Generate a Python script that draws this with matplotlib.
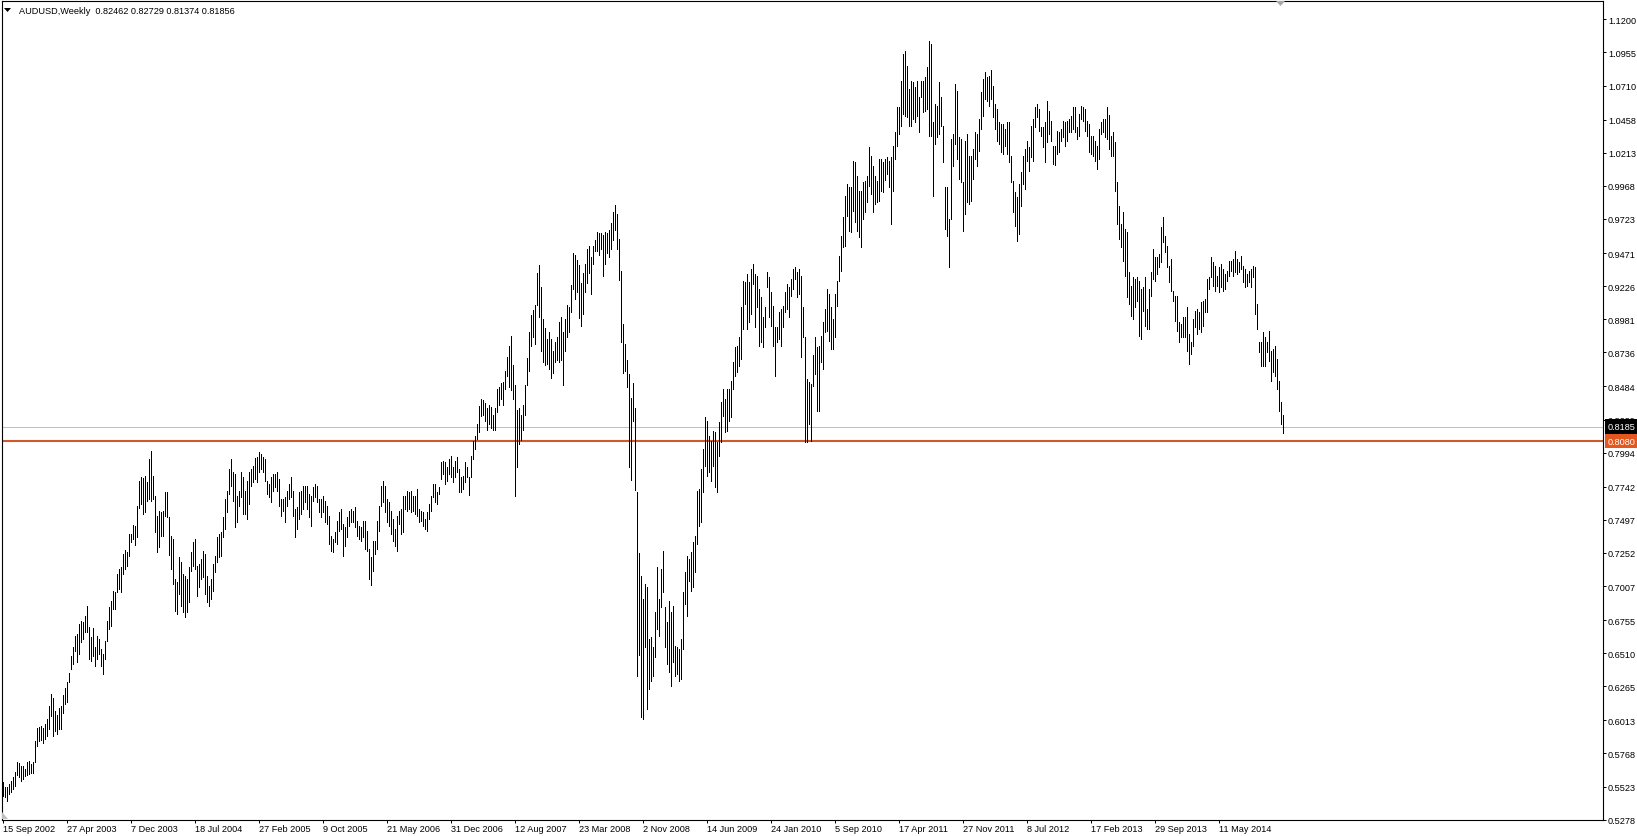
import numpy as np
import matplotlib
matplotlib.use('Agg')
import matplotlib.pyplot as plt
from matplotlib import transforms
from matplotlib.patches import Polygon

# AUDUSD weekly bars, first bar = week of 15 Sep 2002, highs / lows
high_02_04 = [0.5554, 0.5517, 0.5517, 0.5542, 0.5566, 0.5591, 0.5628, 0.5707, 0.5697, 0.5678,
              0.5673, 0.5653, 0.5702, 0.5715, 0.5690, 0.5707, 0.5862, 0.5954, 0.5961, 0.5974,
              0.5954, 0.5986, 0.6023, 0.6117, 0.6208, 0.6176, 0.6085, 0.6052, 0.6102, 0.6122,
              0.6200, 0.6250, 0.6299, 0.6363, 0.6486, 0.6553, 0.6639, 0.6652, 0.6726, 0.6750,
              0.6738, 0.6788, 0.6857, 0.6701, 0.6627, 0.6694, 0.6553, 0.6635, 0.6615, 0.6541,
              0.6504, 0.6603, 0.6750, 0.6849, 0.6899, 0.6972, 0.6960, 0.7096, 0.7133, 0.7145,
              0.7244, 0.7276, 0.7256, 0.7392, 0.7392, 0.7459, 0.7449, 0.7597, 0.7787, 0.7811,
              0.7804, 0.7819, 0.7774, 0.7947, 0.8008, 0.7824, 0.7675, 0.7528, 0.7565, 0.7552]
low_02_04 = [0.5455, 0.5443, 0.5419, 0.5468, 0.5480, 0.5505, 0.5530, 0.5608, 0.5591, 0.5566,
             0.5579, 0.5603, 0.5608, 0.5616, 0.5623, 0.5623, 0.5702, 0.5826, 0.5862, 0.5870,
             0.5845, 0.5875, 0.5900, 0.5949, 0.6047, 0.5900, 0.5937, 0.5912, 0.5949, 0.5949,
             0.6067, 0.6134, 0.6146, 0.6294, 0.6393, 0.6430, 0.6528, 0.6442, 0.6504, 0.6590,
             0.6615, 0.6664, 0.6664, 0.6467, 0.6454, 0.6486, 0.6418, 0.6467, 0.6504, 0.6418,
             0.6356, 0.6467, 0.6603, 0.6689, 0.6714, 0.6837, 0.6837, 0.6960, 0.6985, 0.6960,
             0.7096, 0.7133, 0.7157, 0.7231, 0.7330, 0.7355, 0.7310, 0.7367, 0.7582, 0.7614,
             0.7540, 0.7552, 0.7639, 0.7651, 0.7639, 0.7651, 0.7404, 0.7256, 0.7293, 0.7380]

high_04_05 = [0.7564, 0.7700, 0.7700, 0.7515, 0.7380, 0.7355, 0.7059, 0.7034, 0.7219, 0.7182,
              0.7096, 0.7083, 0.7059, 0.7145, 0.7256, 0.7330, 0.7355, 0.7157, 0.7170, 0.7207,
              0.7268, 0.7244, 0.7083, 0.7009, 0.7059, 0.7170, 0.7231, 0.7367, 0.7392, 0.7404,
              0.7515, 0.7651, 0.7713, 0.7873, 0.7947, 0.7848, 0.7836, 0.7675, 0.7713, 0.7848,
              0.7811, 0.7713, 0.7787, 0.7848, 0.7873, 0.7897, 0.7952, 0.7959, 0.7996, 0.7984,
              0.7959, 0.7947, 0.7787, 0.7762, 0.7811, 0.7836, 0.7836, 0.7848, 0.7799, 0.7651,
              0.7651, 0.7663, 0.7713, 0.7762, 0.7811, 0.7713, 0.7577, 0.7589, 0.7700, 0.7713,
              0.7749, 0.7749, 0.7749, 0.7688, 0.7675, 0.7737, 0.7762, 0.7749, 0.7651, 0.7651]
low_04_05 = [0.7380, 0.7528, 0.7515, 0.7236, 0.7133, 0.7022, 0.6825, 0.6800, 0.6948, 0.6862,
             0.6812, 0.6775, 0.6812, 0.6886, 0.7120, 0.7157, 0.7133, 0.6936, 0.6997, 0.7059,
             0.7071, 0.6948, 0.6886, 0.6862, 0.6911, 0.6972, 0.7108, 0.7182, 0.7219, 0.7231,
             0.7367, 0.7429, 0.7552, 0.7688, 0.7749, 0.7639, 0.7441, 0.7478, 0.7602, 0.7663,
             0.7540, 0.7540, 0.7503, 0.7614, 0.7749, 0.7774, 0.7799, 0.7774, 0.7848, 0.7873,
             0.7848, 0.7787, 0.7688, 0.7663, 0.7627, 0.7713, 0.7737, 0.7713, 0.7602, 0.7528,
             0.7565, 0.7478, 0.7602, 0.7651, 0.7663, 0.7528, 0.7367, 0.7429, 0.7503, 0.7540,
             0.7577, 0.7627, 0.7577, 0.7515, 0.7454, 0.7639, 0.7663, 0.7627, 0.7552, 0.7515]

high_05_07 = [0.7676, 0.7639, 0.7602, 0.7528, 0.7380, 0.7355, 0.7404, 0.7490, 0.7552, 0.7577,
              0.7466, 0.7441, 0.7515, 0.7565, 0.7577, 0.7565, 0.7589, 0.7490, 0.7453, 0.7441,
              0.7490, 0.7490, 0.7416, 0.7281, 0.7219, 0.7343, 0.7343, 0.7490, 0.7602, 0.7750,
              0.7787, 0.7750, 0.7651, 0.7626, 0.7565, 0.7503, 0.7429, 0.7528, 0.7565, 0.7577,
              0.7676, 0.7676, 0.7713, 0.7700, 0.7713, 0.7676, 0.7676, 0.7725, 0.7577, 0.7565,
              0.7552, 0.7503, 0.7552, 0.7614, 0.7676, 0.7762, 0.7762, 0.7700, 0.7737, 0.7922,
              0.7935, 0.7922, 0.7885, 0.7947, 0.7972, 0.7885, 0.7935, 0.7959, 0.7873, 0.7811,
              0.7824, 0.7922, 0.7885, 0.7811, 0.7972, 0.8082, 0.8120, 0.8206, 0.8341, 0.8391]
low_05_07 = [0.7552, 0.7478, 0.7466, 0.7318, 0.7268, 0.7256, 0.7330, 0.7318, 0.7416, 0.7429,
             0.7231, 0.7305, 0.7367, 0.7453, 0.7478, 0.7478, 0.7441, 0.7380, 0.7355, 0.7343,
             0.7367, 0.7281, 0.7268, 0.7059, 0.7017, 0.7120, 0.7244, 0.7281, 0.7416, 0.7602,
             0.7626, 0.7552, 0.7478, 0.7453, 0.7392, 0.7343, 0.7305, 0.7268, 0.7466, 0.7392,
             0.7404, 0.7577, 0.7565, 0.7577, 0.7552, 0.7565, 0.7540, 0.7528, 0.7478, 0.7490,
             0.7453, 0.7429, 0.7416, 0.7503, 0.7565, 0.7663, 0.7626, 0.7614, 0.7688, 0.7799,
             0.7836, 0.7762, 0.7787, 0.7836, 0.7811, 0.7774, 0.7811, 0.7848, 0.7700, 0.7700,
             0.7725, 0.7774, 0.7811, 0.7680, 0.7811, 0.7947, 0.8021, 0.8095, 0.8144, 0.8268]

high_07_08 = [0.8380, 0.8362, 0.8322, 0.8343, 0.8335, 0.8269, 0.8322, 0.8467, 0.8481, 0.8507,
              0.8520, 0.8600, 0.8705, 0.8785, 0.8856, 0.8644, 0.8494, 0.8309, 0.8327, 0.8269,
              0.8348, 0.8494, 0.8692, 0.8890, 0.9015, 0.9049, 0.9089, 0.9326, 0.9379, 0.9221,
              0.8983, 0.8917, 0.8838, 0.8890, 0.8838, 0.8745, 0.8811, 0.8851, 0.8962, 0.8996,
              0.8890, 0.8983, 0.9089, 0.9075, 0.9234, 0.9472, 0.9458, 0.9419, 0.9379, 0.9247,
              0.9326, 0.9392, 0.9498, 0.9525, 0.9445, 0.9525, 0.9564, 0.9630, 0.9622, 0.9622,
              0.9604, 0.9630, 0.9622, 0.9643, 0.9696, 0.9776, 0.9828, 0.9762, 0.9577, 0.9339,
              0.8943, 0.8798, 0.8679, 0.8573, 0.8401, 0.8507, 0.8322, 0.7701, 0.7252, 0.7080]
low_07_08 = [0.8269, 0.8229, 0.8164, 0.8203, 0.8177, 0.8164, 0.8158, 0.8296, 0.8349, 0.8388,
             0.8349, 0.8467, 0.8560, 0.8481, 0.8454, 0.8388, 0.7675, 0.7886, 0.8058, 0.8084,
             0.8164, 0.8269, 0.8494, 0.8600, 0.8785, 0.8851, 0.8798, 0.9089, 0.8996, 0.8745,
             0.8666, 0.8639, 0.8652, 0.8613, 0.8547, 0.8586, 0.8666, 0.8679, 0.8666, 0.8679,
             0.8494, 0.8745, 0.8851, 0.8890, 0.9036, 0.9207, 0.9128, 0.9181, 0.8989, 0.8930,
             0.9022, 0.9181, 0.9247, 0.9326, 0.9168, 0.9392, 0.9485, 0.9485, 0.9458, 0.9498,
             0.9300, 0.9392, 0.9472, 0.9445, 0.9498, 0.9564, 0.9643, 0.9498, 0.9274, 0.8811,
             0.8586, 0.8600, 0.8481, 0.7886, 0.7793, 0.8229, 0.7714, 0.6340, 0.6498, 0.6036]

high_08_10 = [0.6911, 0.7022, 0.6997, 0.6615, 0.6627, 0.6553, 0.6812, 0.7145, 0.6911, 0.7133,
              0.7269, 0.6849, 0.6738, 0.6898, 0.6812, 0.6861, 0.6565, 0.6553, 0.6541, 0.6615,
              0.6960, 0.7108, 0.7232, 0.7207, 0.7256, 0.7330, 0.7380, 0.7712, 0.7725, 0.7873,
              0.8021, 0.8255, 0.8230, 0.8119, 0.8082, 0.8156, 0.8144, 0.8070, 0.8218, 0.8366,
              0.8465, 0.8391, 0.8465, 0.8465, 0.8526, 0.8662, 0.8773, 0.8785, 0.8847, 0.9069,
              0.9266, 0.9254, 0.9316, 0.9254, 0.9353, 0.9390, 0.9316, 0.9303, 0.9205, 0.9143,
              0.8995, 0.9069, 0.9328, 0.9291, 0.9180, 0.9081, 0.8921, 0.8921, 0.9032, 0.9057,
              0.9081, 0.9180, 0.9242, 0.9217, 0.9279, 0.9353, 0.9365, 0.9328, 0.9353, 0.9303]
low_08_10 = [0.6023, 0.6553, 0.6097, 0.6245, 0.6306, 0.6343, 0.6479, 0.6689, 0.6639, 0.6849,
             0.6960, 0.6553, 0.6430, 0.6368, 0.6269, 0.6442, 0.6343, 0.6356, 0.6306, 0.6319,
             0.6541, 0.6874, 0.6787, 0.7046, 0.6972, 0.6997, 0.7108, 0.7318, 0.7454, 0.7478,
             0.7700, 0.7898, 0.7824, 0.7848, 0.7787, 0.7898, 0.7737, 0.7700, 0.7972, 0.8070,
             0.8267, 0.8144, 0.8156, 0.8230, 0.8255, 0.8465, 0.8563, 0.8588, 0.8637, 0.8687,
             0.8909, 0.9094, 0.8909, 0.8958, 0.9020, 0.9242, 0.8921, 0.9069, 0.8786, 0.8810,
             0.8773, 0.8921, 0.9217, 0.8995, 0.8934, 0.8786, 0.8563, 0.8810, 0.8835, 0.8786,
             0.8921, 0.9032, 0.9057, 0.8995, 0.9155, 0.9205, 0.9279, 0.9143, 0.9168, 0.8699]

high_10_11 = [0.9069, 0.8847, 0.8539, 0.8514, 0.8502, 0.8717, 0.8847, 0.8773, 0.8785, 0.8860,
              0.8958, 0.9057, 0.9205, 0.9168, 0.9069, 0.8983, 0.9168, 0.9267, 0.9451, 0.9600,
              0.9735, 0.9895, 0.9982, 0.9957, 0.9957, 1.0154, 1.0142, 1.0043, 0.9932, 0.9932,
              0.9994, 1.0006, 1.0043, 1.0253, 1.0191, 1.0117, 1.0043, 1.0006, 1.0167, 1.0167,
              1.0142, 1.0167, 1.0179, 1.0154, 1.0179, 1.0265, 1.0364, 1.0549, 1.0549, 1.0746,
              1.0944, 1.0969, 1.0858, 1.0685, 1.0746, 1.0734, 1.0697, 1.0746, 1.0623, 1.0746,
              1.0746, 1.0771, 1.0845, 1.1043, 1.1018, 1.0438, 1.0574, 1.0562, 1.0734, 1.0623,
              1.0413, 0.9957, 0.9957, 0.9723, 1.0315, 1.0352, 1.0722, 1.0672, 1.0327, 1.0315]
low_10_11 = [0.8847, 0.8070, 0.8070, 0.8206, 0.8083, 0.8490, 0.8576, 0.8305, 0.8305, 0.8662,
             0.8613, 0.8884, 0.8897, 0.8823, 0.8761, 0.8761, 0.8847, 0.9081, 0.9267, 0.9341,
             0.9513, 0.9525, 0.9747, 0.9637, 0.9624, 0.9784, 0.9698, 0.9637, 0.9587, 0.9513,
             0.9723, 0.9772, 0.9846, 0.9969, 0.9907, 0.9772, 0.9834, 0.9846, 0.9858, 0.9932,
             0.9920, 1.0012, 1.0056, 0.9957, 0.9686, 0.9932, 1.0167, 1.0265, 1.0352, 1.0413,
             1.0500, 1.0488, 1.0475, 1.0413, 1.0413, 1.0463, 1.0438, 1.0488, 1.0364, 1.0623,
             1.0512, 1.0525, 1.0537, 1.0339, 1.0339, 0.9895, 1.0278, 1.0327, 1.0352, 1.0413,
             1.0142, 0.9649, 0.9600, 0.9365, 0.9723, 1.0117, 1.0278, 1.0167, 1.0019, 0.9994]

high_11_13 = [0.9994, 1.0302, 1.0352, 1.0191, 1.0191, 1.0241, 1.0364, 1.0352, 1.0463, 1.0660,
              1.0759, 1.0808, 1.0771, 1.0784, 1.0826, 1.0710, 1.0574, 1.0537, 1.0438, 1.0426,
              1.0426, 1.0389, 1.0438, 1.0438, 1.0191, 1.0006, 0.9920, 0.9883, 0.9982, 1.0068,
              1.0191, 1.0241, 1.0302, 1.0253, 1.0413, 1.0463, 1.0549, 1.0574, 1.0537, 1.0401,
              1.0401, 1.0438, 1.0599, 1.0525, 1.0450, 1.0265, 1.0265, 1.0376, 1.0364, 1.0389,
              1.0450, 1.0438, 1.0450, 1.0463, 1.0487, 1.0549, 1.0549, 1.0401, 1.0500, 1.0561,
              1.0549, 1.0537, 1.0450, 1.0426, 1.0340, 1.0340, 1.0302, 1.0265, 1.0389, 1.0438,
              1.0463, 1.0463, 1.0549, 1.0493, 1.0340, 1.0364, 1.0290, 0.9994, 0.9821, 0.9686]
low_11_13 = [0.9637, 0.9760, 0.9846, 0.9834, 0.9858, 1.0019, 1.0167, 1.0117, 1.0229, 1.0389,
             1.0487, 1.0611, 1.0599, 1.0561, 1.0611, 1.0475, 1.0389, 1.0302, 1.0278, 1.0216,
             1.0204, 1.0265, 1.0204, 1.0142, 0.9994, 0.9772, 0.9673, 0.9562, 0.9612, 0.9821,
             0.9982, 0.9945, 1.0155, 1.0080, 1.0179, 1.0155, 1.0401, 1.0475, 1.0376, 1.0340,
             1.0253, 1.0142, 1.0290, 1.0352, 1.0302, 1.0130, 1.0122, 1.0204, 1.0216, 1.0302,
             1.0327, 1.0265, 1.0302, 1.0364, 1.0364, 1.0389, 1.0364, 1.0315, 1.0340, 1.0463,
             1.0450, 1.0376, 1.0340, 1.0216, 1.0204, 1.0191, 1.0155, 1.0093, 1.0167, 1.0352,
             1.0364, 1.0327, 1.0315, 1.0241, 1.0191, 1.0191, 0.9932, 0.9686, 0.9575, 0.9513]

high_13_14 = [0.9772, 0.9649, 0.9624, 0.9328, 0.9229, 0.9291, 0.9279, 0.9291, 0.9266, 0.9205,
              0.9217, 0.9291, 0.9057, 0.9205, 0.9328, 0.9501, 0.9439, 0.9439, 0.9464, 0.9661,
              0.9735, 0.9599, 0.9525, 0.9377, 0.9427, 0.9192, 0.9155, 0.9155, 0.8958, 0.8946,
              0.8995, 0.8995, 0.9069, 0.8872, 0.8810, 0.8983, 0.9044, 0.9057, 0.9032, 0.9106,
              0.9118, 0.9131, 0.9279, 0.9291, 0.9439, 0.9402, 0.9377, 0.9303, 0.9365, 0.9390,
              0.9353, 0.9316, 0.9340, 0.9415, 0.9415, 0.9427, 0.9488, 0.9427, 0.9402, 0.9451,
              0.9377, 0.9353, 0.9316, 0.9340, 0.9353, 0.9377, 0.9365, 0.9094, 0.8810, 0.8810,
              0.8884, 0.8847, 0.8810, 0.8896, 0.8748, 0.8761, 0.8785, 0.8687, 0.8526, 0.8366,
              0.82729]
low_13_14 = [0.9415, 0.9304, 0.9143, 0.9094, 0.9007, 0.8983, 0.9069, 0.9118, 0.8859, 0.8835,
             0.9044, 0.8933, 0.8909, 0.8909, 0.9155, 0.9279, 0.9266, 0.9316, 0.9365, 0.9402,
             0.9550, 0.9476, 0.9365, 0.9254, 0.9192, 0.9118, 0.8970, 0.8896, 0.8810, 0.8847,
             0.8847, 0.8847, 0.8748, 0.8650, 0.8724, 0.8785, 0.8921, 0.8872, 0.8909, 0.8884,
             0.8933, 0.9032, 0.9037, 0.9205, 0.9291, 0.9229, 0.9192, 0.9229, 0.9180, 0.9217,
             0.9192, 0.9205, 0.9266, 0.9304, 0.9340, 0.9304, 0.9328, 0.9316, 0.9328, 0.9353,
             0.9254, 0.9217, 0.9229, 0.9254, 0.9217, 0.9291, 0.9019, 0.8909, 0.8736, 0.8637,
             0.8637, 0.8637, 0.8736, 0.8674, 0.8526, 0.8588, 0.8563, 0.8465, 0.8304, 0.8206,
             0.81374]

# last bar: open, high, low, close (shown in the header)
last_ohlc = [0.82462, 0.82729, 0.81374, 0.81856]
bid_label = '0.8185'
level = 0.8080
level_label = '0.8080'

date_labels = ['15 Sep 2002', '27 Apr 2003', '7 Dec 2003', '18 Jul 2004', '27 Feb 2005',
               '9 Oct 2005', '21 May 2006', '31 Dec 2006', '12 Aug 2007', '23 Mar 2008',
               '2 Nov 2008', '14 Jun 2009', '24 Jan 2010', '5 Sep 2010', '17 Apr 2011',
               '27 Nov 2011', '8 Jul 2012', '17 Feb 2013', '29 Sep 2013', '11 May 2014']
bars_per_label = 32

price_labels = ['1.1200', '1.0955', '1.0710', '1.0458', '1.0213', '0.9968', '0.9723', '0.9471',
                '0.9226', '0.8981', '0.8736', '0.8484', '0.8239', '0.7994', '0.7742', '0.7497',
                '0.7252', '0.7007', '0.6755', '0.6510', '0.6265', '0.6013', '0.5768', '0.5523',
                '0.5278']

highs = np.array(high_02_04 + high_04_05 + high_05_07 + high_07_08 +
                 high_08_10 + high_10_11 + high_11_13 + high_13_14)
lows = np.array(low_02_04 + low_04_05 + low_05_07 + low_07_08 +
                low_08_10 + low_10_11 + low_11_13 + low_13_14)
n = min(len(highs), len(lows))
highs, lows = highs[:n], lows[:n]

plt.rcParams['font.family'] = ['Liberation Sans', 'DejaVu Sans']
fs = 6.6
W, H = 1637, 837

fig = plt.figure(figsize=(W / 100, H / 100), dpi=100)
fig.patch.set_facecolor('white')

# chart frame in pixels (left, top, right, bottom)
L, T, R, B = 1.5, 1.5, 1603.0, 821.0
ax = fig.add_axes([L / W, (H - B) / H, (R - L) / W, (B - T) / H])

px_per_bar = 2.0
ax.set_xlim((L - 2.5) / px_per_bar, (R - 2.5) / px_per_bar)
# 0.00074 per pixel, level line sits at pixel row 442
ppx = 0.00074
ax.set_ylim(level - (B - 442) * ppx, level + (442 - T) * ppx)

x = np.arange(n)
ax.vlines(x, lows, highs, colors='black', linewidth=0.72, antialiased=False, zorder=3)

ax.axhline(last_ohlc[3], color='#c0c0c0', linewidth=0.72, zorder=2)
ax.axhline(level, color='#cc5a2c', linewidth=1.5, zorder=2)

for sp in ax.spines.values():
    sp.set_linewidth(0.8)
    sp.set_color('black')

ax.yaxis.tick_right()
ax.set_yticks([float(v) for v in price_labels])
ax.set_yticklabels(price_labels)
ax.tick_params(axis='y', direction='out', length=2.2, width=0.72, pad=1.4,
               labelsize=fs, colors='black')

ax.set_xticks(np.arange(len(date_labels)) * bars_per_label)
ax.set_xticklabels(date_labels, ha='left')
ax.tick_params(axis='x', direction='out', length=2.4, width=0.72, pad=0.2,
               labelsize=fs, colors='black')
for lab in ax.get_xticklabels():
    lab.set_transform(lab.get_transform() + transforms.ScaledTranslation(0.5 / 100, 0, fig.dpi_scale_trans))

# price tags on the right scale
tag_tr = transforms.blended_transform_factory(ax.transAxes, ax.transData)
tag_tr = tag_tr + transforms.ScaledTranslation(4.5 / 100, 0, fig.dpi_scale_trans)
ax.text(1.0, last_ohlc[3], bid_label, transform=tag_tr, ha='left', va='center',
        fontsize=fs, color='white', clip_on=False, zorder=6,
        bbox=dict(boxstyle='square,pad=0.3', fc='black', ec='none'))
ax.text(1.0, level, level_label, transform=tag_tr, ha='left', va='center',
        fontsize=fs, color='white', clip_on=False, zorder=6,
        bbox=dict(boxstyle='square,pad=0.3', fc='#e4571e', ec='none'))

# header
fig.text(19 / W, 1 - 11 / H, 'AUDUSD,Weekly  %.5f %.5f %.5f %.5f' % tuple(last_ohlc),
         ha='left', va='center', fontsize=fs, color='black')
fig.add_artist(Polygon([[4 / W, 1 - 9 / H], [11 / W, 1 - 9 / H], [7.5 / W, 1 - 13 / H]],
                       closed=True, transform=fig.transFigure, fc='black', ec='none'))

# chart shift marker and scroll corner marker
fig.add_artist(Polygon([[1276 / W, 1 - 2 / H], [1285 / W, 1 - 2 / H], [1280.5 / W, 1 - 7 / H]],
                       closed=True, transform=fig.transFigure, fc='#a8a8a8', ec='none'))
fig.add_artist(Polygon([[2 / W, 1 - 813 / H], [2 / W, 1 - 820 / H], [8 / W, 1 - 820 / H]],
                       closed=True, transform=fig.transFigure, fc='#c0c0c0', ec='none'))

fig.savefig('out.png', dpi=100, facecolor='white')
